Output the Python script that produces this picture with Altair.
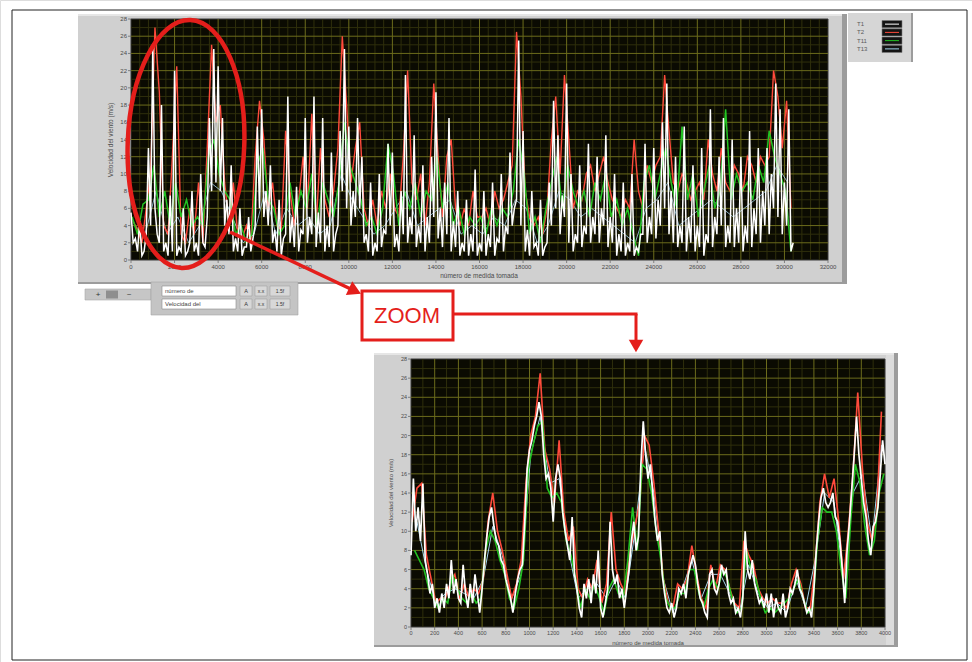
import altair as alt
import pandas as pd

# ---------------------------------------------------------------------------
# Wind-speed records (m/s) from four sensors, T1, T2, T11 and T13.
# Each run is stored with its sampling grid (first measurement, step).
# ---------------------------------------------------------------------------
SERIES = ["T1", "T2", "T11", "T13"]
SERIES_COLORS = ["#ffffff", "#ff4a3c", "#22c322", "#a6d6ee"]

# Full campaign, measurements 0 .. ~30400
FULL_T1_GRID = (0, 200)
FULL_T1 = [
    5.5, 2.5, 4.5, 1, 13, 25, 3, 18, 2, 7.5,
    22, 1.5, 6, 1, 8, 2, 10, 1.5, 16.5, 24.5,
    22.5, 16.5, 7, 11, 2.5, 6, 1.5, 5, 2.5, 15.5,
    17.5, 8, 11, 3.5, 7, 2.5, 19, 5, 8.5, 3.5,
    16.5, 5, 19, 5.5, 16.5, 4, 12.5, 3, 15, 24.5,
    15.5, 8, 16.5, 12, 3, 9, 2, 10, 3.5, 13.5,
    12.5, 3, 8, 21.5, 5, 14.5, 4, 11, 5, 12,
    19.5, 6, 9, 16.5, 4.5, 8, 2, 7, 3, 10.5,
    2, 8, 3, 9, 2.5, 10, 4, 12.5, 6, 25.5,
    15, 3.5, 8, 2, 7, 1.5, 9, 18.5, 14.5, 7.5,
    20.5, 10, 3, 11, 4, 13.5, 5, 12, 6, 14.5,
    5, 10, 3, 9, 2, 10, 1.5, 3, 13.5, 5,
    13, 7, 16, 20.5, 8, 12, 4, 15.5, 5, 11,
    4, 13, 3, 17.5, 5, 12, 16.5, 4, 14, 6,
    12, 4, 15, 6, 13, 8, 13, 10, 20.5, 17.5,
    9, 17.5, 2,
]
# T1 minima between the samples above
FULL_T1_LOW_GRID = (100, 200)
FULL_T1_LOW = [
    2, 1, 0.5, 3, 4, 6, 2, 1, 0.5, 1,
    0.5, 1, 0.5, 2, 1, 0.5, 2, 5, 8, 9,
    8, 4, 3, 1, 1, 0.5, 1.5, 1, 4, 6,
    5, 4, 2, 1, 0.5, 3, 2, 1.5, 1, 3,
    2, 3, 1.5, 2, 1, 1.5, 1, 4, 8, 6,
    4, 5, 6, 2, 1, 0.5, 1, 1.5, 3, 4,
    1.5, 1, 3, 2, 3, 1.5, 2, 1, 2, 5,
    2.5, 1.5, 3, 1, 1.5, 0.5, 1, 0.5, 1, 0.5,
    1, 0.5, 1.5, 0.5, 2, 1, 3, 4, 7, 4,
    1, 0.5, 1.5, 0.5, 0.5, 2, 4, 6, 3, 5,
    2, 1, 2, 1.5, 3, 2, 3, 2, 4, 1.5,
    2, 0.5, 1, 0.5, 1, 0.5, 1, 3, 2, 3,
    2.5, 4, 6, 3, 2, 1.5, 2, 1, 2, 1,
    1.5, 0.5, 2, 1.5, 3, 4, 1.5, 2, 1.5, 2,
    1, 2, 1.5, 3, 2, 4, 3, 6, 5, 3,
    4, 1,
]
FULL_T2_GRID = (100, 200)
FULL_T2 = [
    4.5, 3.5, 2, 6, 10, 27, 19.5, 4, 3, 12,
    22.5, 3, 2, 6, 3, 9, 2, 13, 25, 16,
    18, 9, 4, 9, 3, 2.5, 4, 2, 12, 18.5,
    14, 6, 9, 4, 3.5, 15, 8, 4, 7, 12,
    6, 17, 4, 13, 7, 5, 8, 13, 26, 18,
    9, 13, 16, 6, 4, 7, 4, 8, 6, 10,
    6, 5, 12, 22, 9, 7, 10, 4, 9, 20.5,
    12, 5, 12, 14, 6, 4, 6, 4, 8, 5,
    5, 6, 4, 8, 6, 7, 9, 11, 26.5, 19,
    8, 5, 4, 5, 3, 6, 14, 19, 10, 21.5,
    14, 6, 8, 7, 10, 11, 8, 10, 12, 9,
    7, 6, 5, 7, 6, 14, 8, 6, 11, 9,
    11, 12, 21.5, 15, 9, 8, 10, 9, 7, 8,
    9, 7, 14, 10, 8, 13, 9, 8, 11, 10,
    8, 12, 11, 9, 12, 11, 12, 22, 19, 13,
    18.5, 6,
]
FULL_T11_GRID = (50, 250)
FULL_T11 = [
    5, 3, 6.5, 7, 11, 5, 8, 4, 9, 5,
    7, 4, 5, 4, 12, 14, 10, 8, 7, 3,
    4, 2, 3, 11, 13, 7, 6, 3, 4, 9,
    5, 8, 6, 10, 4, 9, 7, 5, 9, 16,
    11, 9, 7, 4, 5, 3, 6, 13.5, 10, 4,
    8, 6, 9, 5, 8, 7, 12, 6, 9, 4,
    6, 3, 5, 4, 5, 3, 6, 4, 6, 5,
    8, 14, 10, 3, 5, 2, 6, 9, 12, 6,
    11, 8, 6, 8, 5, 9, 7, 10, 5, 7,
    4, 6, 3, 0.5, 9, 11, 7, 10, 13, 9,
    6, 15.5, 7, 10, 5, 8, 11, 6, 8, 17.5,
    7, 10, 8, 9, 7, 11, 9, 15, 12, 10,
    8, 1,
]
FULL_T13_GRID = (150, 500)
FULL_T13 = [
    4, 3, 8, 3, 5, 2, 4, 9, 8, 5,
    2, 3, 8, 3, 6, 4, 5, 3, 4, 10,
    7, 5, 3, 4, 6, 8, 4, 5, 6, 7,
    3, 4, 3, 5, 4, 7, 6, 2, 4, 8,
    7, 5, 6, 5, 4, 3, 2, 6, 7, 9,
    4, 5, 6, 7, 6, 5, 6, 7, 8, 11,
    9,
]

# Detail of the first 4000 measurements
ZOOM_T1_GRID = (0, 20)
ZOOM_T1 = [
    7.5, 15.5, 10, 12.5, 9, 15, 7, 5.5, 3.5, 4.5,
    2, 3, 1.5, 3.5, 2, 4.5, 3, 7, 3.5, 5,
    3, 2.5, 6.5, 3.5, 2, 4.5, 2.5, 5.5, 3.5, 1.5,
    4, 7, 9.5, 11.5, 12.5, 10.5, 9, 8.5, 7, 6.5,
    5, 4, 3, 1.5, 3.5, 5, 6, 6.5, 11, 16.5,
    18.5, 19.5, 21, 22, 23.5, 22, 18, 15.5, 16, 14.5,
    11, 15.5, 17, 15.5, 12, 10, 8.5, 7, 11.5, 5.5,
    4, 2, 1, 4.5, 3, 5, 2.5, 5.5, 3.5, 8,
    2, 1, 2.5, 4, 11, 6, 4.5, 5.5, 3, 4,
    2, 4, 6, 9, 11, 8, 9.5, 17, 21.5, 18,
    15.5, 17, 14, 11, 9, 10, 5.5, 3.5, 2, 1.5,
    2.5, 1, 2, 4, 3.5, 4.5, 3, 5.5, 6.5, 7.5,
    6.5, 4.5, 3, 2.5, 1.5, 1, 5.5, 6, 4, 3.5,
    4.5, 6.5, 5.5, 6, 3.5, 2.5, 3, 1.5, 2, 1,
    3, 10, 6, 5, 7, 4.5, 3.5, 2.5, 3, 2,
    3.5, 1.5, 3.5, 1, 3, 2, 1.5, 3.5, 1, 2,
    4, 3.5, 4.5, 6, 4, 3.5, 2.5, 1.5, 2, 1,
    4, 8, 11, 13.5, 14.5, 13, 12.5, 13, 14, 11.5,
    11, 9, 6, 2.5, 8, 11, 14.5, 18, 22, 18,
    15.5, 13, 11.5, 9, 7.5, 10.5, 11, 12.5, 16, 19.5,
    17,
]
ZOOM_T2_GRID = (10, 40)
ZOOM_T2 = [
    11, 14.5, 15, 7.5, 5, 2.5, 3, 3, 4.5, 5.5,
    3, 4.5, 3, 4, 3.5, 5, 11, 14, 10, 8,
    5.5, 3, 4.5, 7, 15, 20, 22, 26.5, 18.5, 16.5,
    13, 19.5, 12, 9, 10.5, 4, 3, 5, 4, 7,
    2.5, 4.5, 12, 6, 4.5, 3.5, 8, 10.5, 13, 20,
    19, 15, 10, 5, 2.5, 2, 4.5, 4, 5, 8.5,
    5.5, 3, 2, 6.5, 4, 6.5, 6, 4, 2.5, 2,
    9, 7.5, 6.5, 4, 3, 2.5, 3, 2.5, 2.5, 2,
    4.5, 6, 4.5, 2, 2, 6.5, 13, 16, 13.5, 15.5,
    11, 5, 10, 16, 24.5, 16.5, 11, 9, 12, 22.5,
]
ZOOM_T11_GRID = (30, 40)
ZOOM_T11 = [
    8, 7, 6, 4, 3, 2, 3, 2.5, 5.5, 4,
    3, 2.5, 3.5, 2.5, 3, 8, 10, 9, 7, 5.5,
    3, 2, 4, 7, 16.5, 19, 21, 21.5, 14.5, 13.5,
    14, 13, 9, 7.5, 5, 2, 4, 3, 4.5, 3,
    1.5, 4, 5, 3.5, 3, 7, 12.5, 8, 17, 16.5,
    14, 10, 7, 3, 2, 2, 3.5, 3.5, 6, 6,
    3.5, 2, 4, 5, 4, 6, 5, 3, 1.5, 2,
    8, 6, 5, 3, 1.5, 2, 1.5, 2, 2.5, 3,
    4, 5, 3, 1.5, 2, 9, 12.5, 12, 12, 10,
    6, 3, 11, 17, 15, 10.5, 7.5, 9, 14, 16,
]
ZOOM_T13_GRID = (50, 80)
ZOOM_T13 = [
    11, 6, 2.5, 3.5, 4, 3.5, 3, 5, 10.5, 7.5,
    3, 5.5, 18, 22, 15, 15.5, 8, 3, 4, 4.5,
    3, 5, 3, 10, 19, 14, 5, 1.5, 4, 7,
    3, 5.5, 5.5, 3.5, 1.5, 6.5, 3.5, 2, 2.5, 1.5,
    5, 2, 7, 14, 13, 5, 14, 16, 9, 19,
]

FULL_X_TICKS = list(range(0, 32001, 2000))
ZOOM_X_TICKS = list(range(0, 4001, 200))
Y_TICKS = list(range(0, 29, 2))
CONTROL_LABELS = ["número de", "Velocidad del"]
X_TITLE = "número de medida tomada"
Y_TITLE = "Velocidad del viento (m/s)"

# ---------------------------------------------------------------------------
# Styling
# ---------------------------------------------------------------------------
W, H = 972, 662
RED = "#e41e1b"
PANEL = "#d0d0d0"
PANEL_DARK = "#9c9c9c"
PLOT_BG = "#0b0b02"
GRID_MAJOR = "#6c6c1c"
GRID_MINOR = "#2f2f0c"
INK = "#4a4a4a"
FONT = "Liberation Sans"
DRAW_ORDER = ["T13", "T2", "T11", "T1"]

ONE = pd.DataFrame({"k": [0]})


def sampled(*runs):
    """Join one or more (grid, values) runs into a single series ordered by measurement."""
    rows = []
    for (start, step), values in runs:
        rows += [(start + step * i, v) for i, v in enumerate(values)]
    return pd.DataFrame(sorted(rows), columns=["n", "v"])


def box(x0, x1, y0, y1, **style):
    return alt.Chart(ONE).mark_rect(**style).encode(
        x=alt.value(x0), x2=alt.value(x1), y=alt.value(y0), y2=alt.value(y1)
    )


def label(x, y, text, **style):
    return alt.Chart(ONE).mark_text(text=text, font=FONT, **style).encode(
        x=alt.value(x), y=alt.value(y)
    )


def scale_marks(x_scale, y_scale, x_ticks, left, bottom, x_mid, y_mid, size):
    """Tick marks, tick labels and titles of one graph, placed through its scales."""
    xt = pd.DataFrame({"t": x_ticks})
    yt = pd.DataFrame({"t": Y_TICKS})
    return [
        alt.Chart(xt).mark_rule(color="#6a6a6a", strokeWidth=0.8).encode(
            x=alt.X("t:Q", scale=x_scale, axis=None),
            y=alt.value(bottom), y2=alt.value(bottom + 3),
        ),
        alt.Chart(xt).mark_text(font=FONT, fontSize=size, color=INK, baseline="top").encode(
            x=alt.X("t:Q", scale=x_scale, axis=None), y=alt.value(bottom + 4), text="t:Q"
        ),
        alt.Chart(yt).mark_rule(color="#6a6a6a", strokeWidth=0.8).encode(
            y=alt.Y("t:Q", scale=y_scale, axis=None),
            x=alt.value(left - 3), x2=alt.value(left),
        ),
        alt.Chart(yt).mark_text(font=FONT, fontSize=size, color=INK, align="right", baseline="middle").encode(
            y=alt.Y("t:Q", scale=y_scale, axis=None), x=alt.value(left - 4), text="t:Q"
        ),
        label(x_mid, bottom + 16, X_TITLE, fontSize=size + 0.5, color=INK),
        label(left - 20, y_mid, Y_TITLE, fontSize=size + 0.5, color=INK, angle=270),
    ]


def plot_block(x_scale, y_scale, x_max, major_x, minor_x, runs, widths):
    layers = []
    area = pd.DataFrame({"x0": [0], "x1": [x_max], "y0": [0], "y1": [28]})
    layers.append(
        alt.Chart(area).mark_rect(color=PLOT_BG, stroke="#3a3a3a", strokeWidth=1).encode(
            x=alt.X("x0:Q", scale=x_scale, axis=None), x2="x1",
            y=alt.Y("y0:Q", scale=y_scale, axis=None), y2="y1",
        )
    )
    minor_y = [v for v in range(1, 28) if v % 2]
    for xs, ys, color in ((minor_x, minor_y, GRID_MINOR), (major_x[1:-1], Y_TICKS[1:-1], GRID_MAJOR)):
        vgrid = pd.DataFrame({"gx": xs, "y0": 0, "y1": 28})
        hgrid = pd.DataFrame({"gy": ys, "x0": 0, "x1": x_max})
        layers.append(
            alt.Chart(vgrid).mark_rule(color=color, strokeWidth=1).encode(
                x=alt.X("gx:Q", scale=x_scale, axis=None),
                y=alt.Y("y0:Q", scale=y_scale, axis=None), y2="y1",
            )
        )
        layers.append(
            alt.Chart(hgrid).mark_rule(color=color, strokeWidth=1).encode(
                y=alt.Y("gy:Q", scale=y_scale, axis=None),
                x=alt.X("x0:Q", scale=x_scale, axis=None), x2="x1",
            )
        )
    for name in DRAW_ORDER:
        color = SERIES_COLORS[SERIES.index(name)]
        layers.append(
            alt.Chart(sampled(*runs[name])).mark_line(color=color, strokeWidth=widths[name]).encode(
                x=alt.X("n:Q", scale=x_scale, axis=None),
                y=alt.Y("v:Q", scale=y_scale, axis=None),
            )
        )
    return layers


# ---------------------------------------------------------------------------
# Page furniture: frame and instrument panels
# ---------------------------------------------------------------------------
layers = [
    box(12, 967, 10, 660, fill="#ffffff", stroke="#222222", strokeWidth=1),
    # full-record graph panel
    box(78, 847, 14, 284, color=PANEL),
    box(78, 847, 14, 16, color="#e6e6e6"),
    box(842, 847, 14, 284, color=PANEL_DARK),
    box(78, 847, 282, 284, color=PANEL_DARK),
    # plot legend panel
    box(848, 913, 13, 62, color="#d6d6d6"),
    box(911, 913, 13, 62, color=PANEL_DARK),
    # zoom graph panel
    box(374, 898, 353, 647, color=PANEL),
    box(374, 898, 353, 355, color="#e6e6e6"),
    box(886, 898, 355, 647, color="#dcdcdc"),
    box(894, 898, 353, 647, color=PANEL_DARK),
    box(374, 898, 645, 647, color=PANEL_DARK),
]

# ---------------------------------------------------------------------------
# Graphs
# ---------------------------------------------------------------------------
full_x = alt.Scale(domain=[0, 32000], range=[131, 828], nice=False, zero=False)
full_y = alt.Scale(domain=[0, 28], range=[260, 19], nice=False, zero=False)
zoom_x = alt.Scale(domain=[0, 4000], range=[411, 885], nice=False, zero=False)
zoom_y = alt.Scale(domain=[0, 28], range=[627, 359], nice=False, zero=False)

full_runs = {
    "T1": [(FULL_T1_GRID, FULL_T1), (FULL_T1_LOW_GRID, FULL_T1_LOW)],
    "T2": [(FULL_T2_GRID, FULL_T2)],
    "T11": [(FULL_T11_GRID, FULL_T11)],
    "T13": [(FULL_T13_GRID, FULL_T13)],
}
zoom_runs = {
    "T1": [(ZOOM_T1_GRID, ZOOM_T1)],
    "T2": [(ZOOM_T2_GRID, ZOOM_T2)],
    "T11": [(ZOOM_T11_GRID, ZOOM_T11)],
    "T13": [(ZOOM_T13_GRID, ZOOM_T13)],
}

layers += plot_block(
    full_x, full_y, 32000, FULL_X_TICKS,
    [v for v in range(400, 32000, 400) if v % 2000],
    full_runs, {"T1": 1.5, "T2": 1.4, "T11": 1.5, "T13": 0.8},
)
layers += scale_marks(full_x, full_y, FULL_X_TICKS, 131, 260, 479, 140, 6)
layers += plot_block(
    zoom_x, zoom_y, 4000, ZOOM_X_TICKS,
    [v for v in range(100, 4000, 200)],
    zoom_runs, {"T1": 1.7, "T2": 1.6, "T11": 1.6, "T13": 1.0},
)
layers += scale_marks(zoom_x, zoom_y, ZOOM_X_TICKS, 411, 627, 648, 493, 5.5)

# ---------------------------------------------------------------------------
# Plot legend (T1, T2, T11, T13)
# ---------------------------------------------------------------------------
legend_df = pd.DataFrame({"serie": SERIES, "color": SERIES_COLORS})
legend_y = alt.Y("serie:N", scale=alt.Scale(type="point", domain=SERIES, range=[20, 53]), axis=None)
layers += [
    alt.Chart(legend_df).mark_text(align="left", font=FONT, fontSize=6, color="#5a5a5a").encode(
        x=alt.value(857), y=legend_y, text="serie:N"
    ),
    alt.Chart(legend_df).mark_point(
        shape="M -1 -0.36 L 1 -0.36 L 1 0.36 L -1 0.36 Z", size=400, filled=True,
        color="#141414", stroke="#7a7a7a", strokeWidth=0.6, opacity=1,
    ).encode(x=alt.value(892), y=legend_y),
    alt.Chart(legend_df).mark_point(
        shape="M -0.7 0 L 0.7 0", size=400, filled=False, strokeWidth=1, opacity=1,
    ).encode(x=alt.value(892), y=legend_y, stroke=alt.Stroke("color:N", scale=None)),
]

# ---------------------------------------------------------------------------
# Graph palette and scale legend below the full-record graph
# ---------------------------------------------------------------------------
layers += [
    box(85, 151, 289, 300, color="#c6c6c6", stroke="#a8a8a8", strokeWidth=0.6),
    label(98, 295, "+", fontSize=8, color="#333333"),
    box(106, 118, 290.5, 298.5, color="#8e8e8e"),
    label(129, 295, "~", fontSize=8, color="#333333"),
    box(151, 298, 282, 315, color="#c4c4c4", stroke="#a4a4a4", strokeWidth=0.6),
]
for i, text in enumerate(CONTROL_LABELS):
    top = 286 + 13 * i
    layers += [
        box(162, 236, top, top + 10, color="#ffffff", stroke="#8c8c8c", strokeWidth=0.6),
        label(165, top + 5, text, align="left", fontSize=6, color="#444444"),
        box(240, 252, top, top + 10, color="#d8d8d8", stroke="#9a9a9a", strokeWidth=0.5),
        label(246, top + 5, "A", fontSize=5.5, color="#333333"),
        box(255, 267, top, top + 10, color="#d8d8d8", stroke="#9a9a9a", strokeWidth=0.5),
        label(261, top + 5, "x.x", fontSize=5, color="#333333"),
        box(270, 290, top, top + 10, color="#d8d8d8", stroke="#9a9a9a", strokeWidth=0.5),
        label(280, top + 5, "1.5f", fontSize=5, color="#333333"),
    ]

# ---------------------------------------------------------------------------
# Callout: ellipse around the first 4000 measurements, arrows and ZOOM box
# ---------------------------------------------------------------------------
ELLIPSE = "M -0.47 0 A 0.47 1 0 1 0 0.47 0 A 0.47 1 0 1 0 -0.47 0 Z"
layers += [
    alt.Chart(ONE).mark_point(
        shape=ELLIPSE, size=248 ** 2, filled=False, stroke=RED, strokeWidth=4.5, opacity=1, angle=2,
    ).encode(x=alt.value(186), y=alt.value(144)),
    alt.Chart(ONE).mark_rule(color=RED, strokeWidth=3.5).encode(
        x=alt.value(230), y=alt.value(232), x2=alt.value(355), y2=alt.value(291)
    ),
    alt.Chart(ONE).mark_point(
        shape="triangle-up", size=230, filled=True, color=RED, opacity=1, angle=115,
    ).encode(x=alt.value(355), y=alt.value(291)),
    box(362, 453, 291, 340, fill="#ffffff", stroke=RED, strokeWidth=3),
    label(407, 316, "ZOOM", fontSize=22, color=RED),
    alt.Chart(ONE).mark_rule(color=RED, strokeWidth=3).encode(
        x=alt.value(453), x2=alt.value(637.5), y=alt.value(314)
    ),
    alt.Chart(ONE).mark_rule(color=RED, strokeWidth=3).encode(
        x=alt.value(636), y=alt.value(314), y2=alt.value(344)
    ),
    alt.Chart(ONE).mark_point(
        shape="triangle-up", size=210, filled=True, color=RED, opacity=1, angle=180,
    ).encode(x=alt.value(636), y=alt.value(346)),
]

chart = (
    alt.layer(*layers)
    .resolve_scale(x="independent", y="independent")
    .properties(width=W, height=H, padding=0, autosize=alt.AutoSizeParams(type="none"))
    .configure_view(stroke=None)
    .configure(background="#ffffff")
)

chart.save("out.html", embed_options={"renderer": "svg", "actions": False})
